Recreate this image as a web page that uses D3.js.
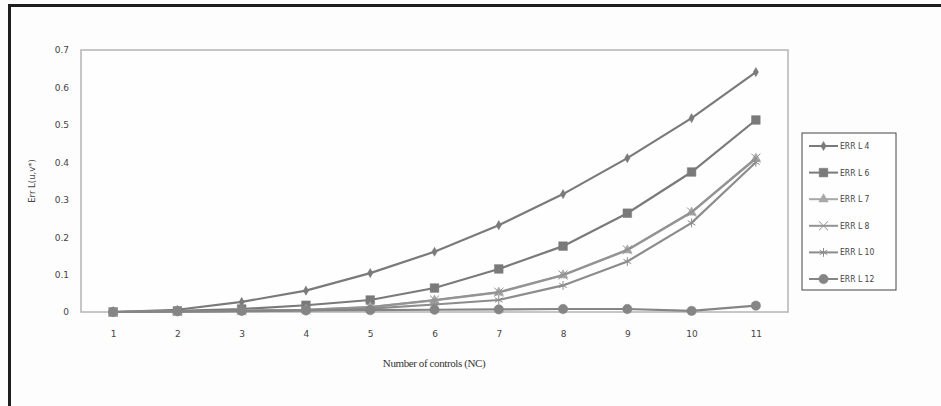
<!DOCTYPE html>
<html>
<head>
<meta charset="utf-8">
<script src="https://cdn.jsdelivr.net/npm/d3@7"></script>
<style>
  body { margin: 0; background: #fdfdfd; }
  svg { display: block; }
</style>
</head>
<body>
<div id="chart"></div>
<script>
// Data
let controls = [1, 2, 3, 4, 5, 6, 7, 8, 9, 10, 11];
let errL4  = [0, 0.006, 0.027, 0.057, 0.104, 0.161, 0.232, 0.315, 0.411, 0.518, 0.641];
let errL6  = [0, 0.003, 0.008, 0.018, 0.032, 0.064, 0.115, 0.176, 0.264, 0.374, 0.513];
let errL7  = [0, 0.001, 0.003, 0.006, 0.013, 0.031, 0.052, 0.098, 0.165, 0.266, 0.410];
let errL8  = [0, 0.001, 0.003, 0.006, 0.013, 0.032, 0.053, 0.099, 0.166, 0.267, 0.411];
let errL10 = [0, 0.001, 0.002, 0.004, 0.009, 0.020, 0.032, 0.071, 0.135, 0.238, 0.400];
let errL12 = [0, 0.002, 0.003, 0.004, 0.005, 0.006, 0.007, 0.008, 0.008, 0.003, 0.017];
let yTicks = [0, 0.1, 0.2, 0.3, 0.4, 0.5, 0.6, 0.7];

let series = [
    {name: "ERR L 4",  values: errL4,  symbol: d3.symbolDiamond,  size: 24, color: "#7a7a7a", fill: true},
    {name: "ERR L 6",  values: errL6,  symbol: d3.symbolSquare,   size: 75, color: "#7a7a7a", fill: true},
    {name: "ERR L 7",  values: errL7,  symbol: d3.symbolTriangle, size: 40, color: "#a8a8a8", fill: true},
    {name: "ERR L 8",  values: errL8,  symbol: d3.symbolX,        size: 55, color: "#939393", fill: false},
    {name: "ERR L 10", values: errL10, symbol: d3.symbolAsterisk, size: 55, color: "#8c8c8c", fill: false},
    {name: "ERR L 12", values: errL12, symbol: d3.symbolCircle,   size: 70, color: "#858585", fill: true}
];

let W = 941, H = 406;
let plot = {left: 81, right: 788, top: 50, bottom: 312};

let svg = d3.select("#chart").append("svg")
    .attr("width", W)
    .attr("height", H);

// Outer frame (top and left edges visible)
svg.append("line").attr("x1", 9).attr("x2", W).attr("y1", 5.5).attr("y2", 5.5)
    .attr("stroke", "#1e1e1e").attr("stroke-width", 3);
svg.append("line").attr("x1", 9.5).attr("x2", 9.5).attr("y1", 4).attr("y2", H)
    .attr("stroke", "#1e1e1e").attr("stroke-width", 3);

// Scales
let x = d3.scalePoint().domain(controls).range([plot.left, plot.right]).padding(0.5);
let y = d3.scaleLinear().domain([0, 0.7]).range([plot.bottom, plot.top]);

// Plot area box
svg.append("rect")
    .attr("x", plot.left).attr("y", plot.top)
    .attr("width", plot.right - plot.left).attr("height", plot.bottom - plot.top)
    .attr("fill", "#fefefe").attr("stroke", "#b4b4b4").attr("stroke-width", 1.5);

// Y axis labels
let yAxis = svg.append("g")
    .attr("transform", "translate(" + plot.left + ",0)")
    .call(d3.axisLeft(y).tickValues(yTicks).tickSize(0).tickPadding(12)
        .tickFormat(function(d) { return d === 0 ? "0" : d3.format(".1f")(d); }));
yAxis.select(".domain").remove();
yAxis.selectAll("text").attr("fill", "#444").style("font-family", "'DejaVu Sans', sans-serif").style("font-size", "9px");

// X axis labels
let xAxis = svg.append("g")
    .attr("transform", "translate(0," + plot.bottom + ")")
    .call(d3.axisBottom(x).tickSize(0).tickPadding(19));
xAxis.select(".domain").remove();
xAxis.selectAll("text").attr("fill", "#444").style("font-family", "'DejaVu Sans', sans-serif").style("font-size", "9px");

// Axis titles
svg.append("text")
    .attr("x", 434).attr("y", 367)
    .attr("text-anchor", "middle")
    .attr("fill", "#333")
    .style("font-family", "'Liberation Serif', serif")
    .style("font-size", "11px")
    .style("letter-spacing", "-0.4px")
    .text("Number of controls (NC)");

svg.append("text")
    .attr("transform", "translate(35,181) rotate(-90)")
    .attr("text-anchor", "middle")
    .attr("fill", "#444")
    .style("font-family", "'DejaVu Sans', sans-serif")
    .style("font-size", "8.5px")
    .text("Err L(u,v*)");

// Lines and markers
let line = d3.line()
    .x(function(d, i) { return x(controls[i]); })
    .y(function(d) { return y(d); });

series.forEach(function(s) {
    let g = svg.append("g");
    g.append("path")
        .datum(s.values)
        .attr("d", line)
        .attr("fill", "none")
        .attr("stroke", s.color)
        .attr("stroke-width", 2.2);
    g.selectAll("path.mark")
        .data(s.values)
        .enter().append("path")
        .attr("class", "mark")
        .attr("transform", function(d, i) { return "translate(" + x(controls[i]) + "," + y(d) + ")"; })
        .attr("d", d3.symbol().type(s.symbol).size(s.size))
        .attr("fill", s.fill ? s.color : "none")
        .attr("stroke", s.color)
        .attr("stroke-width", s.fill ? 0.5 : 1);
});

// Legend
let legend = svg.append("g");
legend.append("rect")
    .attr("x", 802).attr("y", 133)
    .attr("width", 94).attr("height", 157)
    .attr("fill", "#fefefe").attr("stroke", "#444").attr("stroke-width", 1);

let items = legend.selectAll("g.item")
    .data(series)
    .enter().append("g")
    .attr("class", "item")
    .attr("transform", function(d, i) { return "translate(0," + (146 + i * 26.6) + ")"; });
items.append("line")
    .attr("x1", 809).attr("x2", 838)
    .attr("stroke", function(d) { return d.color; })
    .attr("stroke-width", 2);
items.append("path")
    .attr("transform", "translate(823.5,0)")
    .attr("d", function(d) { return d3.symbol().type(d.symbol).size(d.size)(); })
    .attr("fill", function(d) { return d.fill ? d.color : "none"; })
    .attr("stroke", function(d) { return d.color; })
    .attr("stroke-width", function(d) { return d.fill ? 0.5 : 1; });
items.append("text")
    .attr("x", 840).attr("dy", "0.35em")
    .attr("fill", "#444")
    .style("font-family", "'DejaVu Sans Condensed', 'DejaVu Sans', sans-serif")
    .style("font-size", "8.5px")
    .text(function(d) { return d.name; });
</script>
</body>
</html>
